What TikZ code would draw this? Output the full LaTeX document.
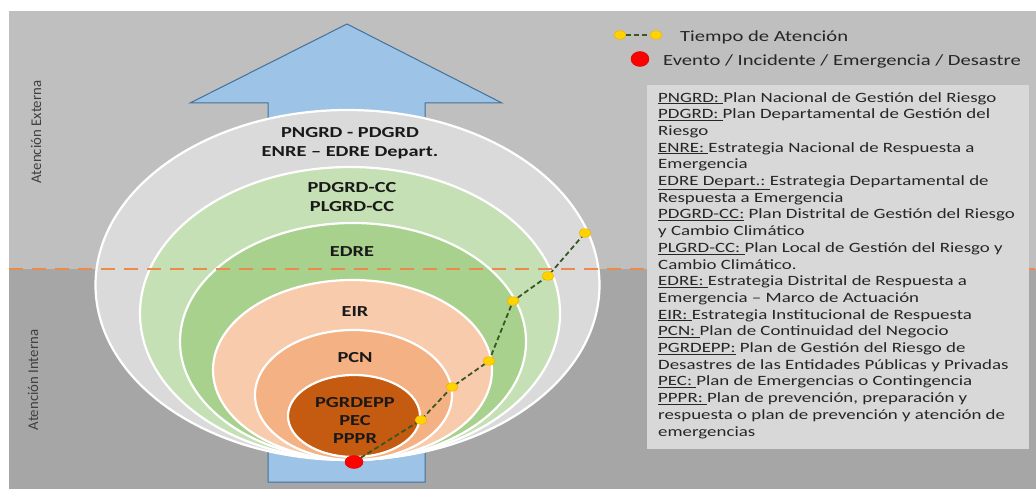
\documentclass[tikz,border=0pt]{standalone}
\usepackage{fontspec}
\setmainfont{Carlito}[FakeStretch=1.33]
\newfontfamily\plainfont{Carlito}
\usetikzlibrary{shapes.geometric}
\definecolor{bgtop}{HTML}{BFBFBF}
\definecolor{bgbot}{HTML}{A6A6A6}
\definecolor{arrfill}{HTML}{9DC3E6}
\definecolor{arrdraw}{HTML}{41719C}
\definecolor{eA}{HTML}{DADADA}
\definecolor{eB}{HTML}{C5E0B4}
\definecolor{eC}{HTML}{A9D18E}
\definecolor{eD}{HTML}{F8CBAD}
\definecolor{eE}{HTML}{F4B183}
\definecolor{eF}{HTML}{C55A11}
\definecolor{boxfill}{HTML}{D8D8D8}
\definecolor{orangeline}{HTML}{EC8A4C}
\definecolor{pathgreen}{HTML}{385723}
\definecolor{dotyellow}{HTML}{FFD200}
\definecolor{dotedge}{HTML}{F0B400}
\definecolor{txt}{HTML}{262626}
\begin{document}
\begin{tikzpicture}[x=1pt,y=-1pt,
  ring/.style={draw=white,line width=2.2pt},
  lbl/.style={font=\fontsize{15.3}{19}\selectfont\bfseries,text=black!90,align=center,inner sep=0pt},
  sidelbl/.style={font=\plainfont\fontsize{14.8}{17}\selectfont,text=black!75,rotate=90,inner sep=0pt},
  leg/.style={font=\fontsize{15.5}{18}\selectfont,text=txt,anchor=west,inner sep=0pt},
  ydot/.style={ellipse,fill=dotyellow,draw=dotedge,line width=0.5pt,minimum width=12pt,minimum height=8.5pt,inner sep=0pt},
  rdot/.style={ellipse,fill=red,draw=red!80!black,line width=0.4pt,minimum width=18pt,minimum height=13pt,inner sep=0pt},
  tpath/.style={pathgreen,line width=1.8pt,dash pattern=on 5pt off 3pt},
  sep/.style={orangeline,line width=2.6pt,dash pattern=on 14pt off 9pt}
]
\useasboundingbox (0,0) rectangle (1036,489);
% background
\fill[white] (0,0) rectangle (1036,489);
\fill[bgtop] (9,11) rectangle (1036,269);
\fill[bgbot] (9,269) rectangle (1036,489);
% side labels
\node[sidelbl] (ext) at (36,132) {Atención Externa};
\node[sidelbl] (int) at (33,380) {Atención Interna};
% arrow
\draw[fill=arrfill,draw=arrdraw,line width=1pt,line join=miter]
  (268,482) -- (268,103) -- (190,103) -- (347,24) -- (502,103) -- (425,103) -- (425,482) -- cycle;
% ellipses
\draw[ring,fill=eA] (347.5,285) ellipse [x radius=252,y radius=175];
\draw[ring,fill=eB] (350,313.5) ellipse [x radius=210,y radius=146.5];
\draw[ring,fill=eC] (353,341.5) ellipse [x radius=173,y radius=118.5];
\draw[ring,fill=eD] (352.5,370) ellipse [x radius=139.5,y radius=90];
\draw[ring,fill=eE] (353.5,395) ellipse [x radius=98.5,y radius=65];
\draw[ring,fill=eF] (354,416) ellipse [x radius=66,y radius=41];
% dashed separator
\coordinate (sa) at (9,269);
\coordinate (sb) at (1036,269);
\draw[sep] (sa) -- (sb);
% labels
\node[lbl] (l1) at (350,143) {PNGRD - PDGRD\\ENRE – EDRE Depart.};
\node[lbl] (l2) at (352,197.5) {PDGRD-CC\\PLGRD-CC};
\node[lbl] (l3) at (352,252) {EDRE};
\node[lbl] (l4) at (355,312) {EIR};
\node[lbl] (l5) at (355,358) {PCN};
\node[lbl,font=\fontsize{15.3}{18}\selectfont\bfseries] (l6) at (355,420) {PGRDEPP\\PEC\\PPPR};
% time path
\coordinate (ev) at (354,462);
\coordinate (d1) at (421,420);
\coordinate (d2) at (452,387);
\coordinate (d3) at (489,361);
\coordinate (d4) at (513,301);
\coordinate (d5) at (548,276);
\coordinate (d6) at (585,233);
\draw[tpath] (ev) -- (d1) -- (d2) -- (d3) -- (d4) -- (d5) -- (d6);
\foreach \n in {d1,d2,d3,d4,d5,d6} \node[ydot] (y\n) at (\n) {};
\node[rdot] (evdot) at (ev) {};
% legend
\node[ydot] (ga) at (620,35) {};
\node[ydot] (gb) at (656,35) {};
\draw[tpath,line width=1.5pt] (ga) -- (gb);
\node[leg] (gt) at (680,37) {Tiempo de Atención};
\node[rdot,minimum height=15pt] (gr) at (640,59) {};
\node[leg] (ge) at (663,61) {Evento / Incidente / Emergencia / Desastre};
% definitions box
\node[fill=boxfill,anchor=north west,minimum width=382pt,minimum height=364pt,inner sep=0pt] (box) at (647,85) {};
\node[anchor=north west,inner sep=0pt,align=left,text=txt,font=\fontsize{14.2}{16.7}\selectfont] (defs) at (658,92) {%
\underline{PNGRD:\ }Plan Nacional de Gestión del Riesgo\\
\underline{PDGRD:\ }Plan Departamental de Gestión del\\
Riesgo\\
\underline{ENRE:\ }Estrategia Nacional de Respuesta a\\
Emergencia\\
\underline{EDRE Depart.:\ }Estrategia Departamental de\\
Respuesta a Emergencia\\
\underline{PDGRD-CC:} Plan Distrital de Gestión del Riesgo\\
y Cambio Climático\\
\underline{PLGRD-CC:\ }Plan Local de Gestión del Riesgo y\\
Cambio Climático.\\
\underline{EDRE:\ }Estrategia Distrital de Respuesta a\\
Emergencia – Marco de Actuación\\
\underline{EIR:\ }Estrategia Institucional de Respuesta\\
\underline{PCN:\ }Plan de Continuidad del Negocio\\
\underline{PGRDEPP:} Plan de Gestión del Riesgo de\\
Desastres de las Entidades Públicas y Privadas\\
\underline{PEC:\ }Plan de Emergencias o Contingencia\\
\underline{PPPR:\ }Plan de prevención, preparación y\\
respuesta o plan de prevención y atención de\\
emergencias};
\end{tikzpicture}
\end{document}
